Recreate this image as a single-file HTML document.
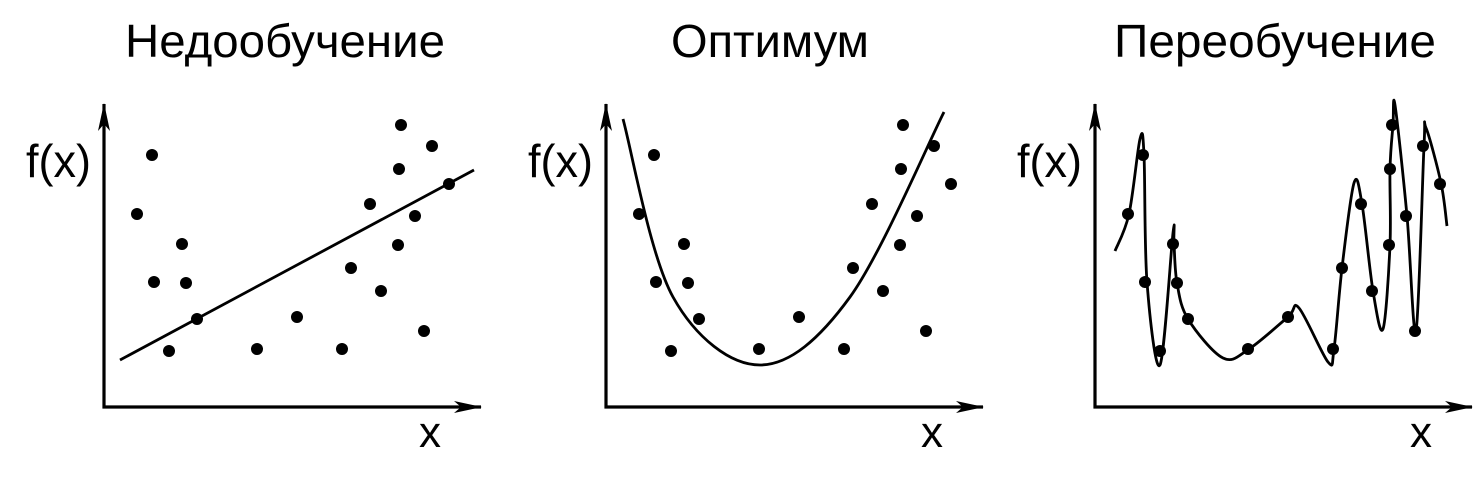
<!DOCTYPE html>
<html><head><meta charset="utf-8"><style>
html,body{margin:0;padding:0;background:#fff}
svg{display:block}
text{font-family:"Liberation Sans",sans-serif;fill:#000}
</style></head><body>
<svg id="fig" width="1475" height="482" viewBox="0 0 1475 482" xmlns="http://www.w3.org/2000/svg">
<defs><marker id="ah" viewBox="0 0 28 12" refX="27" refY="6" markerWidth="28" markerHeight="12" markerUnits="userSpaceOnUse" orient="auto"><path d="M0,0 L28,6 L0,12 L7,6 Z" fill="#000"/></marker></defs>
</svg>
<script>
const panelTitles = ["Недообучение","Оптимум","Переобучение"];
const ptX = [33,48,50,78,82,65,93,153,193,238,247,266,277,294,295,297,311,320,328,345];
const ptY = [193,252,125,163,124,56,88,58,90,58,139,203,116,162,238,282,191,76,261,223];
const lineX = [16,370];
const lineY = [47,237];
const parabX = [17,67,154,244,338];
const parabY = [288,110,42,110,295];
const overX = [20,34,45,49,52,65,78,79,82,93,128,154,193,204,233,239,247,259,267,278,288,295,295,298,300,312,321,329,331,346,352];
const overY = [156,193,268,252,125,42,174,163,124,88,49,58,90,99,45,58,139,224,203,116,78,162,238,282,302,191,76,261,279,224,181];

const NS="http://www.w3.org/2000/svg";
const svg=document.getElementById('fig');
const origins=[104,606,1095];
const baseY=407;
const titleCx=[285,770,1275];
const titleW=[320,198,322];
function mk(t,a,p){const e=document.createElementNS(NS,t);for(const k in a)e.setAttribute(k,a[k]);(p||svg).appendChild(e);return e;}
function spline(xs,ys,sx,sy){
  const P=xs.map((x,i)=>[sx(x),sy(ys[i])]);
  let d=`M${P[0][0]},${P[0][1]}`;
  for(let i=0;i<P.length-1;i++){
    const p0=P[Math.max(0,i-1)],p1=P[i],p2=P[i+1],p3=P[Math.min(P.length-1,i+2)];
    const c1=[p1[0]+(p2[0]-p0[0])/6,p1[1]+(p2[1]-p0[1])/6];
    const c2=[p2[0]-(p3[0]-p1[0])/6,p2[1]-(p3[1]-p1[1])/6];
    d+=` C${c1[0]},${c1[1]} ${c2[0]},${c2[1]} ${p2[0]},${p2[1]}`;
  }
  return d;
}
origins.forEach((ox,pi)=>{
  const g=mk('g',{});
  
  
  const sx=v=>ox+v, sy=v=>baseY-v;
  const t=mk('text',{x:titleCx[pi],y:57,'font-size':46,'text-anchor':'middle',textLength:titleW[pi],lengthAdjust:'spacingAndGlyphs'},g);
  t.textContent=panelTitles[pi];
  
  
  const ya=mk('line',{x1:ox,y1:baseY+1.5,x2:ox,y2:104,stroke:'#000','stroke-width':3.2,'marker-end':'url(#ah)'},g);
  
  
  const xa=mk('line',{x1:ox-1.5,y1:baseY,x2:ox+377,y2:baseY,stroke:'#000','stroke-width':3.2,'marker-end':'url(#ah)'},g);
  
  
  const yl=mk('text',{x:ox-78,y:177,'font-size':46,textLength:65,lengthAdjust:'spacingAndGlyphs'},g);
  yl.textContent='f(x)';
  
  
  const xl=mk('text',{x:ox+315,y:447,'font-size':44},g);
  xl.textContent='x';
  
  
  let d;
  if(pi===0) d=`M${sx(lineX[0])},${sy(lineY[0])} L${sx(lineX[1])},${sy(lineY[1])}`;
  else if(pi===1) d=spline(parabX,parabY,sx,sy);
  else d=spline(overX,overY,sx,sy);
  const c=mk('path',{d:d,fill:'none',stroke:'#000','stroke-width':2.8},g);
  
  
  ptX.forEach((x,i)=>{
    const p=mk('circle',{cx:sx(x),cy:sy(ptY[i]),r:6,fill:'#000'},g);
    
    
  });
});
</script>
</body></html>
